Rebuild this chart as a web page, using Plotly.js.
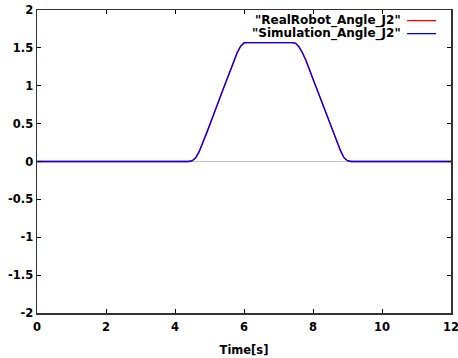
<!DOCTYPE html>
<html>
<head>
<meta charset="utf-8">
<script src="https://cdn.plot.ly/plotly-3.0.1.min.js"></script>
<style>html,body{margin:0;padding:0;background:#fff;}#chart{width:458px;height:358px;}</style>
</head>
<body>
<div id="chart"></div>
<script>
const seriesNames = ['"RealRobot_Angle_J2"', '"Simulation_Angle_J2"'];
const seriesColors = ['#ff0000', '#0000ff'];
const timeS = [0, 1, 2, 3, 4, 4.4, 4.5, 4.6, 4.7, 4.8, 4.9, 5.0, 5.2, 5.4, 5.6, 5.7, 5.8, 5.9, 6.0, 6.1, 7.4, 7.5, 7.6, 7.7, 7.8, 8.0, 8.2, 8.4, 8.6, 8.7, 8.8, 8.9, 9.0, 9.1, 10, 11, 12];
const realAngle = [0, 0, 0, 0, 0, 0, 0.01, 0.05, 0.13, 0.23, 0.35, 0.47, 0.72, 0.96, 1.19, 1.32, 1.43, 1.52, 1.565, 1.57, 1.57, 1.56, 1.51, 1.43, 1.33, 1.09, 0.85, 0.61, 0.37, 0.25, 0.14, 0.05, 0.01, 0, 0, 0, 0];
const simAngle = [0, 0, 0, 0, 0, 0, 0.01, 0.05, 0.13, 0.24, 0.36, 0.48, 0.72, 0.96, 1.20, 1.32, 1.44, 1.52, 1.565, 1.57, 1.57, 1.56, 1.51, 1.43, 1.33, 1.09, 0.85, 0.61, 0.37, 0.25, 0.14, 0.05, 0.01, 0, 0, 0, 0];
const xTicks = [0, 2, 4, 6, 8, 10, 12];
const yTicks = [-2, -1.5, -1, -0.5, 0, 0.5, 1, 1.5, 2];
const xTitle = 'Time[s]';

const font = {family: 'DejaVu Sans, sans-serif', size: 11.5, color: '#000'};
const legFont = {family: 'DejaVu Sans, sans-serif', size: 12, color: '#000'};
const traces = [realAngle, simAngle].map((ys, i) => ({
  x: timeS, y: ys, type: 'scatter', mode: 'lines', name: seriesNames[i],
  line: {color: seriesColors[i], width: 1.3}, showlegend: false
}));
const legX = [0.884, 0.894, 0.964];
const legY = [0.965, 0.922];
const annotations = seriesNames.map((n, i) => ({
  xref: 'paper', yref: 'paper', x: legX[0], y: legY[i], xanchor: 'right', yanchor: 'middle',
  text: '<b>' + n + '</b>', showarrow: false, font: legFont
}));
const shapes = seriesNames.map((n, i) => ({
  type: 'line', xref: 'paper', yref: 'paper', x0: legX[1], x1: legX[2], y0: legY[i], y1: legY[i],
  line: {color: seriesColors[i], width: 1.3}
}));
const axisCommon = {
  showgrid: false, showline: true, linecolor: '#333', linewidth: 1.5, mirror: 'ticks',
  ticks: 'inside', ticklen: 4, tickcolor: '#000', tickfont: font, ticklabeloverflow: 'allow'
};
Plotly.newPlot('chart', traces, {
  width: 458, height: 358,
  margin: {l: 37, r: 7, t: 10, b: 45},
  paper_bgcolor: '#fff', plot_bgcolor: '#fff',
  font: font,
  xaxis: Object.assign({}, axisCommon, {
    range: [0, 12], tickvals: xTicks, ticktext: xTicks.map(v => '<b>' + v + '</b>'),
    zeroline: false, ticklabelstandoff: 3,
    title: {text: '<b>' + xTitle + '</b>', font: font, standoff: 12}
  }),
  yaxis: Object.assign({}, axisCommon, {
    range: [-2, 2], tickvals: yTicks, ticktext: yTicks.map(v => '<b>' + v + '</b>'),
    zeroline: true, zerolinecolor: '#c0c0c0', zerolinewidth: 1
  }),
  annotations: annotations, shapes: shapes
}, {displayModeBar: false, staticPlot: true});
</script>
</body>
</html>
